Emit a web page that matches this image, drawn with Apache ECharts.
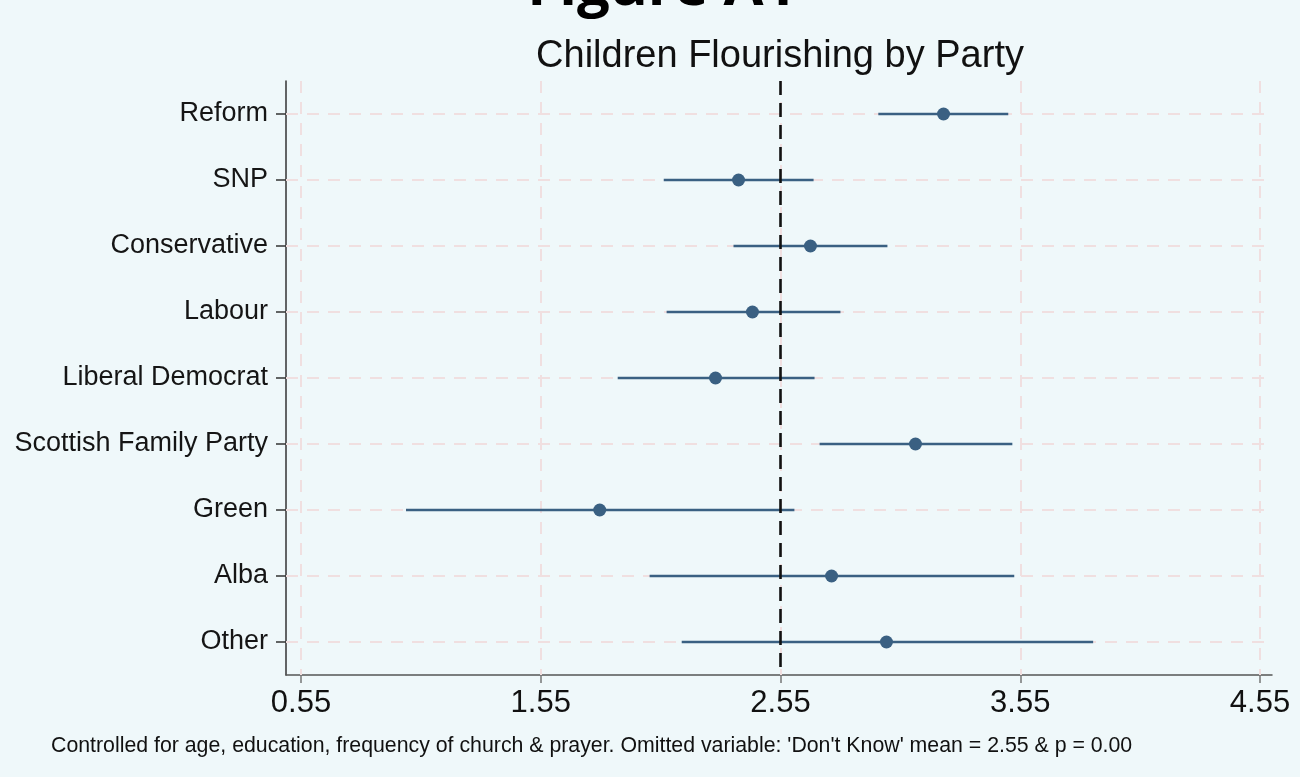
<!DOCTYPE html>
<html>
<head>
<meta charset="utf-8">
<script src="https://cdn.jsdelivr.net/npm/echarts@6/dist/echarts.min.js"></script>
<style>
  html, body { margin: 0; padding: 0; background: #eff8fa; }
  #chart { width: 1300px; height: 777px; }
</style>
</head>
<body>
<div id="chart"></div>
<script>
// Party categories, top to bottom
const categories = ['Reform', 'SNP', 'Conservative', 'Labour', 'Liberal Democrat',
  'Scottish Family Party', 'Green', 'Alba', 'Other'];
// Point estimates and 95% confidence bounds
const estimates = [3.23, 2.375, 2.675, 2.433, 2.279, 3.113, 1.796, 2.763, 2.992];
const lower     = [2.958, 2.063, 2.354, 2.075, 1.871, 2.713, 0.988, 2.004, 2.138];
const upper     = [3.50, 2.688, 2.996, 2.80, 2.692, 3.517, 2.608, 3.525, 3.854];
// X axis tick values
const tickValues = [0.55, 1.55, 2.55, 3.55, 4.55];
// Mean of the omitted category ("Don't Know")
const referenceMean = 2.55;

const titleText = 'Children Flourishing by Party';
const figureLabel = 'Figure A1';
const noteText = "Controlled for age, education, frequency of church & prayer. Omitted variable: 'Don't Know' mean = 2.55 & p = 0.00";

const markColor = '#3a6082';
const gridColor = '#f0dfe0';
const font = '"Liberation Sans", Arial, Helvetica, sans-serif';

const chart = echarts.init(document.getElementById('chart'), null, { renderer: 'canvas' });

const intervals = categories.map((c, i) => [lower[i], upper[i], i]);
const points = categories.map((c, i) => [estimates[i], i]);

chart.setOption({
  backgroundColor: '#eff8fa',
  animation: false,
  grid: { left: 286, right: 28, top: 81, bottom: 102, containLabel: false },
  xAxis: {
    type: 'value',
    min: 0.4875,
    max: 4.6,
    axisLine: { show: true, onZero: false, lineStyle: { color: '#555', width: 1.5 } },
    axisTick: { show: true, length: 8, customValues: tickValues, lineStyle: { color: '#777', width: 1.5 } },
    axisLabel: {
      customValues: tickValues,
      formatter: v => v.toFixed(2),
      margin: 13,
      fontFamily: font,
      fontSize: 31,
      color: '#111'
    },
    splitLine: { show: false }
  },
  yAxis: {
    type: 'category',
    data: categories,
    inverse: true,
    axisLine: { show: true, lineStyle: { color: '#333', width: 1.5 } },
    axisTick: { show: true, length: 10, alignWithLabel: true, lineStyle: { color: '#333', width: 1.5 } },
    axisLabel: { margin: 18, fontFamily: font, fontSize: 27, color: '#151515', padding: [3, 0, 0, 0] },
    splitLine: { show: false }
  },
  series: [
    {
      // background grid lines at tick values and category rows
      type: 'scatter',
      data: [],
      z: 1,
      silent: true,
      markLine: {
        z: 1,
        silent: true,
        symbol: 'none',
        label: { show: false },
        lineStyle: { color: gridColor, width: 2, type: [12, 9] },
        data: tickValues.map(v => ({ xAxis: v })).concat(categories.map(c => ({ yAxis: c })))
      }
    },
    {
      // confidence intervals
      type: 'custom',
      z: 3,
      data: intervals,
      encode: { x: [0, 1], y: 2 },
      renderItem: (params, api) => {
        const a = api.coord([api.value(0), api.value(2)]);
        const b = api.coord([api.value(1), api.value(2)]);
        return {
          type: 'line',
          shape: { x1: a[0], y1: a[1], x2: b[0], y2: b[1] },
          style: { stroke: markColor, lineWidth: 2.7 }
        };
      }
    },
    {
      // point estimates
      type: 'scatter',
      z: 4,
      data: points,
      symbol: 'circle',
      symbolSize: 13,
      itemStyle: { color: markColor, opacity: 1 }
    },
    {
      // reference line at the omitted-category mean
      type: 'scatter',
      data: [],
      z: 6,
      silent: true,
      markLine: {
        z: 6,
        silent: true,
        symbol: 'none',
        label: { show: false },
        lineStyle: { color: '#111', width: 2.6, type: [14, 8] },
        data: [{ xAxis: referenceMean }]
      }
    }
  ],
  graphic: [
    {
      type: 'text',
      x: 662,
      y: -41,
      style: { text: figureLabel, font: 'bold 58px "Open Sans", sans-serif', fill: '#000', align: 'center' }
    },
    {
      type: 'text',
      x: 780,
      y: 57,
      style: { text: titleText, font: '38px ' + font, fill: '#111', align: 'center', verticalAlign: 'middle' }
    },
    {
      type: 'text',
      x: 51,
      y: 746,
      style: { text: noteText, font: '21.3px ' + font, fill: '#111', align: 'left', verticalAlign: 'middle' }
    }
  ]
});
</script>
</body>
</html>
